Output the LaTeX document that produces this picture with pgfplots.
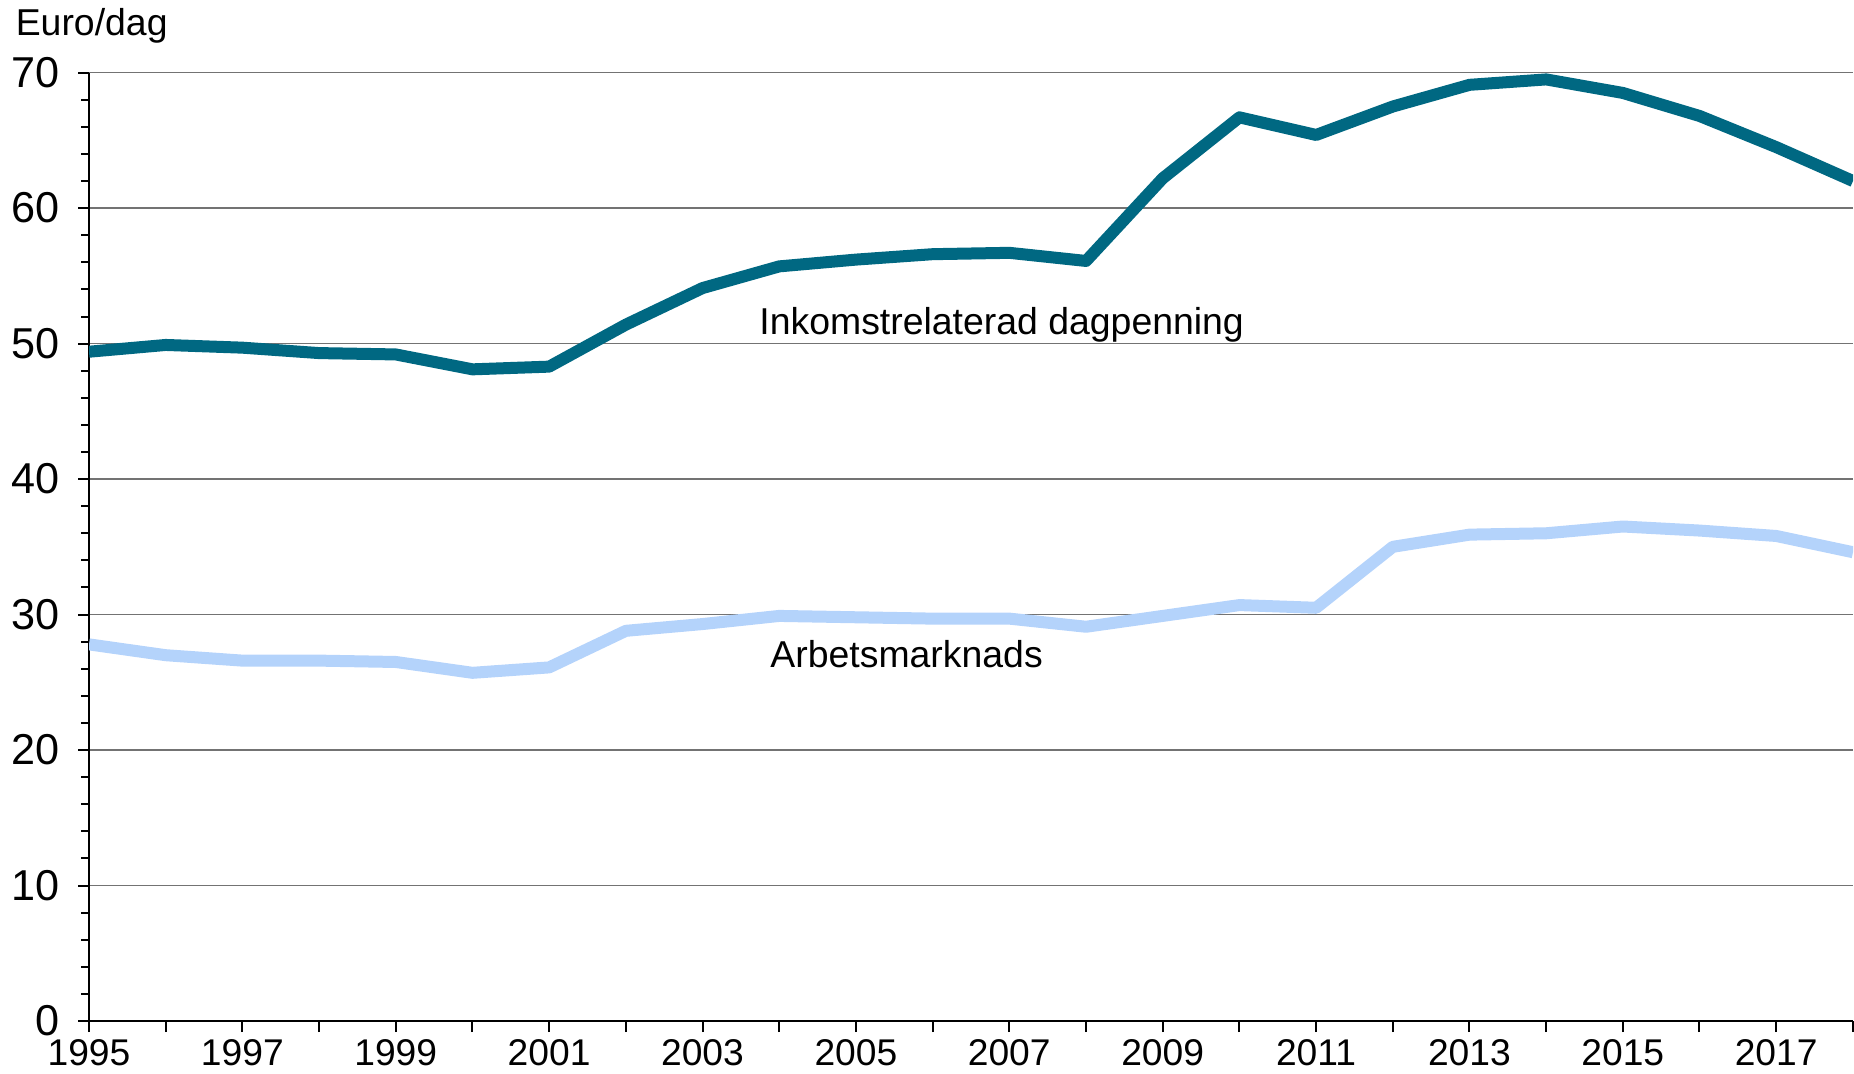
\documentclass[border=0pt]{standalone}
\usepackage{fontspec}
\setmainfont{Liberation Sans}
\usepackage{pgfplots}
\pgfplotsset{compat=1.18}
\definecolor{teal}{HTML}{006882}
\definecolor{lightblue}{HTML}{B4D3FB}

\begin{document}
\fontsize{9.35pt}{11pt}\selectfont
\begin{tikzpicture}
\begin{axis}[scale only axis, width=441pt, height=237.1pt,
  xmin=1995, xmax=2018, ymin=0, ymax=70,
  axis lines=left, axis line style={-, line width=0.5pt},
  tick align=outside, tick style={black, line width=0.5pt},
  major tick length=2.75pt, minor tick length=2pt,
  xtick={1995,...,2018},
  xticklabels={1995,,1997,,1999,,2001,,2003,,2005,,2007,,2009,,2011,,2013,,2015,,2017,},
  ytick={0,10,...,70}, minor y tick num=4,
  ymajorgrids=true, grid style={black!55, line width=0.35pt},
  /pgf/number format/assume math mode=true,
  yticklabel style={inner sep=0pt, anchor=east, xshift=-4.5pt,
    font=\fontsize{10.8pt}{12pt}\selectfont},
  xticklabel style={inner sep=0pt, anchor=north, yshift=-1.75pt,
    font=\fontsize{9.3pt}{11pt}\selectfont},
  line join=round]
\addplot[teal, line width=3pt] coordinates {
  (1995,49.4) (1996,49.9) (1997,49.7) (1998,49.3) (1999,49.2) (2000,48.1)
  (2001,48.3) (2002,51.4) (2003,54.1) (2004,55.7) (2005,56.2) (2006,56.6)
  (2007,56.7) (2008,56.1) (2009,62.2) (2010,66.7) (2011,65.4) (2012,67.5)
  (2013,69.1) (2014,69.5) (2015,68.5) (2016,66.8) (2017,64.5) (2018,62.0)};
\addplot[lightblue, line width=3pt] coordinates {
  (1995,27.8) (1996,27.0) (1997,26.6) (1998,26.6) (1999,26.5) (2000,25.7)
  (2001,26.1) (2002,28.8) (2003,29.3) (2004,29.9) (2005,29.8) (2006,29.7)
  (2007,29.7) (2008,29.1) (2009,29.9) (2010,30.7) (2011,30.5) (2012,35.0)
  (2013,35.9) (2014,36.0) (2015,36.5) (2016,36.2) (2017,35.8) (2018,34.6)};
\node[anchor=base, inner sep=0pt] at (axis cs:2006.9,50.7) {Inkomstrelaterad dagpenning};
\node[anchor=base, inner sep=0pt] at (axis cs:2005.66,26.1) {Arbetsmarknads};
\end{axis}
\node[anchor=base west, inner sep=0pt] at (-18.5pt,246.3pt) {Euro/dag};
\pgfresetboundingbox
\path (-22.25pt,-13pt) rectangle (441.25pt,255.25pt);
\end{tikzpicture}
\end{document}
